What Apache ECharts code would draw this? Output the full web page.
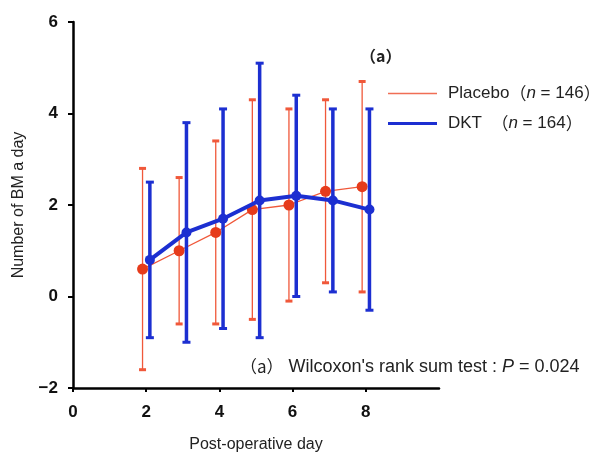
<!DOCTYPE html>
<html>
<head>
<meta charset="utf-8">
<script src="https://cdn.jsdelivr.net/npm/echarts@6/dist/echarts.min.js"></script>
<style>
  html, body { margin: 0; padding: 0; background: #fff; }
  #chart { width: 603px; height: 453px; }
</style>
</head>
<body>
<div id="chart"></div>
<script>
const days = [2, 3, 4, 5, 6, 7, 8];
const seriesNames = ["Placebo", "DKT"];
const groupN = [146, 164];

const placeboMean = [0.6, 1.0, 1.4, 1.9, 2.0, 2.3, 2.4];
const placeboUpper = [2.8, 2.6, 3.4, 4.3, 4.1, 4.3, 4.7];
const placeboLower = [-1.6, -0.6, -0.6, -0.5, -0.1, 0.3, 0.1];

const dktMean = [0.8, 1.4, 1.7, 2.1, 2.2, 2.1, 1.9];
const dktUpper = [2.5, 3.8, 4.1, 5.1, 4.4, 4.1, 4.1];
const dktLower = [-0.9, -1.0, -0.7, -0.9, 0.0, 0.1, -0.3];

const xTicks = [0, 2, 4, 6, 8];

const RED = "#e63b1b";
const RED_LINE = "#f0583a";
const BLUE = "#1c2fd1";
const OFFSET = 0.1;

const chart = echarts.init(document.getElementById("chart"));

// error bars drawn through the axes
const errorBars = (color, lineW, capW, capH) => (params, api) => {
  const x = api.value(0);
  const top = api.coord([x, api.value(2)]);
  const bot = api.coord([x, api.value(1)]);
  return {
    type: "group",
    children: [
      { type: "line", shape: { x1: top[0], y1: top[1], x2: bot[0], y2: bot[1] },
        style: { stroke: color, lineWidth: lineW } },
      { type: "rect", shape: { x: top[0] - capW / 2, y: top[1] - capH / 2, width: capW, height: capH },
        style: { fill: color } },
      { type: "rect", shape: { x: bot[0] - capW / 2, y: bot[1] - capH / 2, width: capW, height: capH },
        style: { fill: color } }
    ]
  };
};

const placeboPts = days.map((d, i) => [d - OFFSET, placeboMean[i]]);
const dktPts = days.map((d, i) => [d + OFFSET, dktMean[i]]);

const textFont = "Liberation Sans, Arial, sans-serif";
const cjkFont = "'Noto Sans CJK SC', sans-serif";

const legendText = {
  fontFamily: textFont,
  fontSize: 17,
  color: "#222",
  padding: [0, 0, 0, 6],
  rich: {
    i: { fontStyle: "italic", fontFamily: textFont, fontSize: 17, color: "#222" },
    p: { fontFamily: cjkFont, fontSize: 17, color: "#222" }
  }
};
const legendLabel = (name) => {
  const n = groupN[seriesNames.indexOf(name)];
  return name === "DKT" ? `${name}  {p|（}{i|n} = ${n}{p|）}` : `${name}{p|（}{i|n} = ${n}{p|）}`;
};

chart.setOption({
  animation: false,
  grid: { left: 73, top: 22, right: 164, bottom: 65, outerBoundsMode: "none" },
  legend: [
    {
      left: 383, top: 80,
      icon: "rect", itemWidth: 49, itemHeight: 1.5,
      data: [seriesNames[0]],
      formatter: legendLabel,
      textStyle: legendText
    },
    {
      left: 383, top: 110,
      icon: "rect", itemWidth: 49, itemHeight: 3,
      data: [seriesNames[1]],
      formatter: legendLabel,
      textStyle: legendText
    }
  ],
  xAxis: {
    type: "value",
    min: 0,
    max: 10,
    interval: 2,
    name: "Post-operative day",
    nameLocation: "middle",
    nameGap: 49,
    nameTextStyle: { fontFamily: textFont, fontSize: 16, color: "#222" },
    splitLine: { show: false },
    axisLine: { onZero: false, lineStyle: { color: "#000", width: 2.5 } },
    axisTick: { length: 4, lineStyle: { color: "#000", width: 2 }, customValues: xTicks },
    axisLabel: {
      customValues: xTicks,
      fontFamily: textFont, fontSize: 17, fontWeight: "bold", color: "#111", margin: 16
    }
  },
  yAxis: {
    type: "value",
    min: -2,
    max: 6,
    interval: 2,
    name: "Number of BM a day",
    nameLocation: "middle",
    nameGap: 46,
    nameTextStyle: { fontFamily: textFont, fontSize: 16, color: "#222" },
    splitLine: { show: false },
    axisLine: { show: true, onZero: false, lineStyle: { color: "#000", width: 2.5 } },
    axisTick: { show: true, length: 5, lineStyle: { color: "#000", width: 2 } },
    axisLabel: {
      fontFamily: textFont, fontSize: 17, fontWeight: "bold", color: "#111", margin: 15,
      formatter: (v) => String(v).replace("-", "\u2212")
    }
  },
  graphic: [
    {
      type: "text", left: 360, top: 48,
      style: { text: "（a）", font: "bold 16px " + cjkFont, fill: "#222" }
    },
    {
      type: "text", left: 240, top: 358,
      style: {
        text: "{p|（a）} Wilcoxon's rank sum test : {i|P} = 0.024",
        font: "18px " + textFont, fill: "#222",
        rich: {
          i: { fontStyle: "italic", fontFamily: textFont, fontSize: 18, fill: "#222" },
          p: { fontFamily: cjkFont, fontSize: 17, fill: "#222" }
        }
      }
    }
  ],
  series: [
    {
      name: "placeboBars",
      type: "custom",
      renderItem: errorBars(RED_LINE, 1.3, 7, 3),
      data: days.map((d, i) => [d - OFFSET, placeboLower[i], placeboUpper[i]]),
      z: 1
    },
    {
      name: seriesNames[0],
      type: "line",
      data: placeboPts,
      symbol: "none",
      lineStyle: { color: RED_LINE, width: 1.3 },
      itemStyle: { color: "#f06e55" },
      z: 2
    },
    {
      name: "placeboPts",
      type: "scatter",
      data: placeboPts,
      symbolSize: 11,
      itemStyle: { color: RED, opacity: 1 },
      z: 3
    },
    {
      name: "dktBars",
      type: "custom",
      renderItem: errorBars(BLUE, 3.5, 8, 3),
      data: days.map((d, i) => [d + OFFSET, dktLower[i], dktUpper[i]]),
      z: 4
    },
    {
      name: seriesNames[1],
      type: "line",
      data: dktPts,
      symbol: "none",
      lineStyle: { color: BLUE, width: 4 },
      itemStyle: { color: BLUE },
      z: 5
    },
    {
      name: "dktPts",
      type: "scatter",
      data: dktPts,
      symbolSize: 10,
      itemStyle: { color: BLUE, opacity: 1 },
      z: 6
    }
  ]
});
</script>
</body>
</html>
